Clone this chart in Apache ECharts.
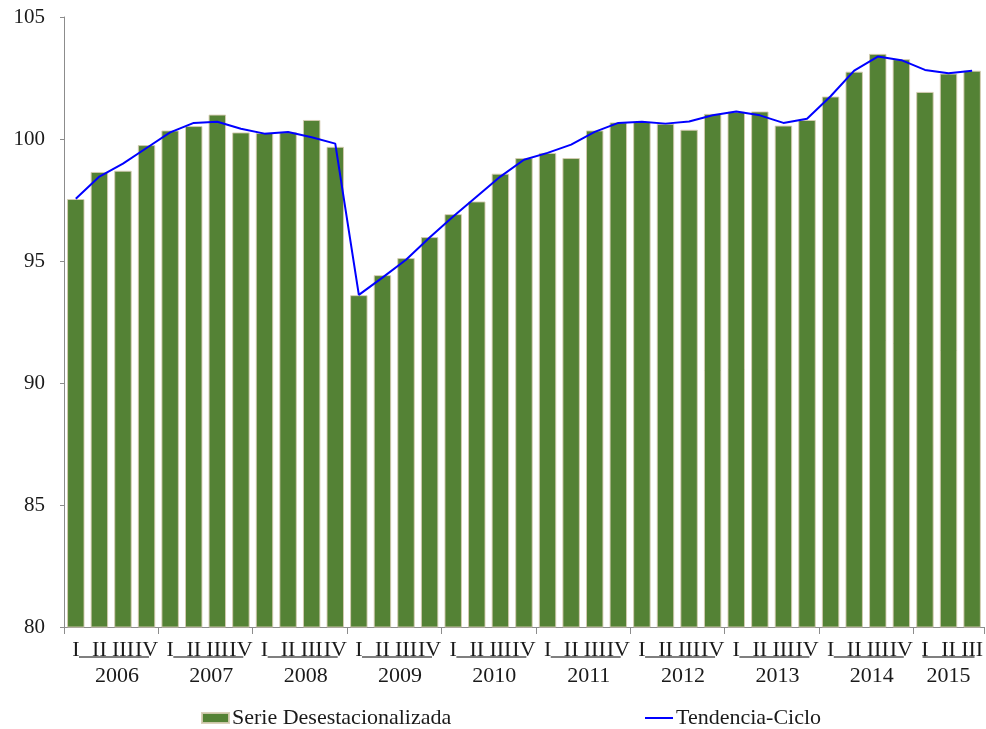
<!DOCTYPE html>
<html>
<head>
<meta charset="utf-8">
<script src="https://cdn.jsdelivr.net/npm/echarts@6/dist/echarts.min.js"></script>
<style>
html,body{margin:0;padding:0;background:#fff;}
#chart{width:986px;height:729px;}
</style>
</head>
<body>
<div id="chart"></div>
<script>
// ---- data ----
const years = ['2006','2007','2008','2009','2010','2011','2012','2013','2014','2015'];
const quarterNames = ['I','II','III','IV'];
const quartersPerYear = [4,4,4,4,4,4,4,4,4,3];
const serieDesestacionalizada = [
  97.54, 98.65, 98.70, 99.75,
  100.35, 100.53, 101.00, 100.27,
  100.25, 100.28, 100.78, 99.68,
  93.60, 94.42, 95.12, 95.98,
  96.92, 97.44, 98.58, 99.22,
  99.43, 99.22, 100.35, 100.68,
  100.70, 100.63, 100.38, 101.03,
  101.12, 101.13, 100.55, 100.78,
  101.74, 102.76, 103.49, 103.27,
  101.93, 102.68, 102.80
];
const tendenciaCiclo = [
  97.55, 98.46, 98.99, 99.63,
  100.27, 100.66, 100.71, 100.42,
  100.22, 100.29, 100.07, 99.81,
  93.61, 94.32, 95.05, 95.96,
  96.82, 97.64, 98.46, 99.15,
  99.43, 99.77, 100.29, 100.66,
  100.71, 100.63, 100.72, 100.97,
  101.13, 100.97, 100.66, 100.83,
  101.75, 102.80, 103.38, 103.23,
  102.83, 102.69, 102.80
];
const yTicks = [80, 85, 90, 95, 100, 105];

// ---- build categories ----
const categories = [];
const quarterLabel = [];
const yearLabelAt = {}; // index -> {year, full}
years.forEach((y, yi) => {
  const n = quartersPerYear[yi];
  const start = categories.length;
  for (let q = 0; q < n; q++) {
    categories.push(y + ' ' + quarterNames[q]);
    quarterLabel.push(quarterNames[q]);
  }
  if (n === 4) yearLabelAt[start + 2] = { year: y, full: true };
  else yearLabelAt[start + 1] = { year: y, full: false };
});

const FONT = "'Liberation Serif', 'DejaVu Serif', serif";
const TXT = '#1a1a1a';

const chart = echarts.init(document.getElementById('chart'), null, { renderer: 'canvas' });
chart.setOption({
  animation: false,
  backgroundColor: '#ffffff',
  textStyle: { fontFamily: FONT },
  grid: { left: 64, right: -7, top: 17, bottom: 102, containLabel: false },
  legend: [
    {
      data: [{ name: 'Serie Desestacionalizada', icon: 'rect' }],
      left: 201, top: 707, padding: 0, itemWidth: 27, itemHeight: 10,
      textStyle: { fontFamily: FONT, fontSize: 22, color: TXT, padding: [0,0,0,-2] }
    },
    {
      data: [{ name: 'Tendencia-Ciclo', icon: 'rect' }],
      left: 645, top: 707, padding: 0, itemWidth: 28, itemHeight: 2,
      itemStyle: { color: '#0000ff', borderWidth: 0 },
      textStyle: { fontFamily: FONT, fontSize: 22, color: TXT, padding: [0,0,0,-2] }
    }
  ],
  xAxis: [
    {
      type: 'category',
      data: categories,
      position: 'bottom',
      axisLine: { show: true, lineStyle: { color: '#8c8c8c', width: 1 } },
      axisTick: {
        show: true, length: 7,
        interval: (idx) => idx % 4 === 0,
        lineStyle: { color: '#8c8c8c' }
      },
      axisLabel: {
        interval: 0, margin: 12, showMinLabel: true, showMaxLabel: true, hideOverlap: false,
        fontFamily: FONT, fontSize: 22, color: TXT,
        formatter: (v, idx) => quarterLabel[idx]
      }
    },
    {
      type: 'category',
      data: categories,
      position: 'bottom',
      axisLine: { show: false },
      axisTick: { show: false },
      axisLabel: {
        interval: (idx) => yearLabelAt[idx] !== undefined,
        showMinLabel: true, showMaxLabel: true, hideOverlap: false,
        margin: 27,
        fontFamily: FONT, fontSize: 22, color: TXT,
        formatter: (v, idx) => {
          const info = yearLabelAt[idx];
          if (!info) return '';
          if (info.full) return '{l|}{s1|}\n{y|' + info.year + '}{s2|}';
          return '{l3|}\n{y|' + info.year + '}';
        },
        rich: {
          s1: { width: 18, height: 1, lineHeight: 6 },
          s2: { width: 12, height: 1, lineHeight: 33 },
          l: { width: 70, height: 1.5, lineHeight: 6, backgroundColor: '#555555' },
          l3: { width: 52, height: 1.5, lineHeight: 6, backgroundColor: '#555555' },
          y: { fontFamily: FONT, fontSize: 22, color: TXT, lineHeight: 33 }
        }
      }
    }
  ],
  yAxis: {
    type: 'value',
    min: yTicks[0], max: yTicks[yTicks.length - 1], interval: 5,
    axisLine: { show: true, lineStyle: { color: '#8c8c8c', width: 1 } },
    axisTick: { show: true, length: 4, lineStyle: { color: '#8c8c8c' } },
    splitLine: { show: false },
    axisLabel: { margin: 19, fontFamily: FONT, fontSize: 21, color: TXT }
  },
  series: [
    {
      name: 'Serie Desestacionalizada',
      type: 'bar',
      xAxisIndex: 0,
      data: serieDesestacionalizada,
      barCategoryGap: '26%',
      itemStyle: { color: '#548235', borderColor: 'rgba(214,204,178,0.9)', borderWidth: 1 }
    },
    {
      name: 'Tendencia-Ciclo',
      type: 'line',
      xAxisIndex: 0,
      data: tendenciaCiclo,
      symbol: 'none',
      showSymbol: false,
      lineStyle: { color: '#0000ff', width: 2 },
      itemStyle: { color: '#0000ff' }
    }
  ]
});
</script>
</body>
</html>
